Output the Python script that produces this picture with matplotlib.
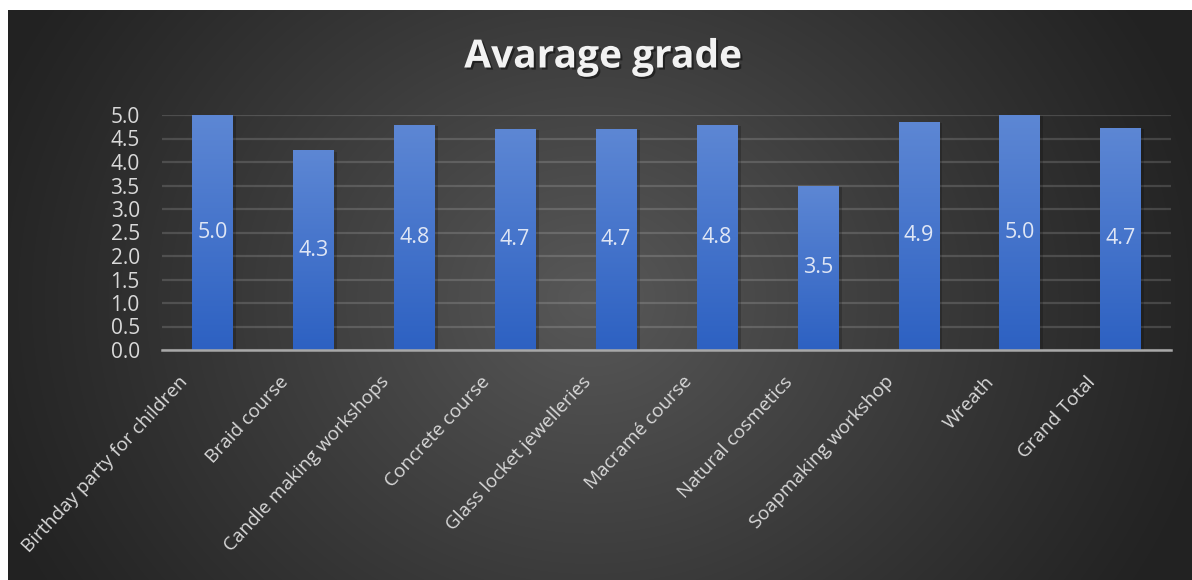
import numpy as np
import matplotlib
matplotlib.use("Agg")
import matplotlib.pyplot as plt
import matplotlib.patheffects as pe
from matplotlib.transforms import ScaledTranslation
from decimal import Decimal, ROUND_HALF_UP

categories = ["Birthday party for children", "Braid course", "Candle making workshops",
              "Concrete course", "Glass locket jewelleries", "Macramé course",
              "Natural cosmetics", "Soapmaking workshop", "Wreath", "Grand Total"]
avg_grade = [5.0, 4.25, 4.79, 4.70, 4.70, 4.79, 3.5, 4.86, 5.0, 4.73]
y_ticks = [0.0, 0.5, 1.0, 1.5, 2.0, 2.5, 3.0, 3.5, 4.0, 4.5, 5.0]
title = "Avarage grade"

plt.rcParams['font.family'] = ['Open Sans', 'DejaVu Sans']


def fmt1(v):
    return str(Decimal(str(v)).quantize(Decimal('0.1'), rounding=ROUND_HALF_UP))


W, H, DPI = 1192, 580, 100
fig = plt.figure(figsize=(W / DPI, H / DPI), dpi=DPI, facecolor='white')

# background radial gradient (chart area)
bx0, by0 = 8, 10
bgax = fig.add_axes([bx0 / W, 0, (W - bx0) / W, (H - by0) / H], zorder=0)
px = np.arange(bx0, W) + 0.5
py = np.arange(by0, H) + 0.5
xx, yy = np.meshgrid(px, py)
r = np.sqrt(((xx - 590) / 640.0) ** 2 + ((yy - 300) / 560.0) ** 2)
edge, center = 0.135, 0.345
val = edge + (center - edge) * np.clip(1 - r, 0, 1) ** 1.1
bgax.imshow(np.dstack([val, val, val]), aspect='auto', origin='upper',
            extent=[0, 1, 0, 1], interpolation='bilinear')
bgax.set_axis_off()

# main axes
left, right, y0px, y5px = 162, 1171, 350, 115
ax = fig.add_axes([left / W, (H - y0px) / H, (right - left) / W, (y0px - y5px) / H], zorder=2)
ax.set_facecolor('none')

x = np.arange(len(categories))
bar_w = 0.40
bars = ax.bar(x, avg_grade, width=bar_w, color='#3465c4', zorder=3,
              path_effects=[pe.SimplePatchShadow(offset=(2.5, -1), shadow_rgbFace='black', alpha=0.2),
                            pe.Normal()])

# vertical gradient inside each bar
grad = np.linspace(0, 1, 256).reshape(-1, 1)
top_c = np.array([0x5d, 0x87, 0xd4]) / 255
bot_c = np.array([0x2d, 0x61, 0xc2]) / 255
grad_img = (bot_c[None, None, :] * (1 - grad[..., None]) + top_c[None, None, :] * grad[..., None])
for b in bars:
    x0, w_, h_ = b.get_x(), b.get_width(), b.get_height()
    im = ax.imshow(grad_img, extent=[x0, x0 + w_, 0, h_], origin='lower',
                   aspect='auto', zorder=4, interpolation='bilinear')
    im.set_clip_path(b)

# data labels
for xi, v in zip(x, avg_grade):
    ax.text(xi, v / 2, fmt1(v), ha='center', va='center', fontsize=15.5,
            color='#dfe6f5', zorder=6)

ax.set_xlim(-0.5, len(categories) - 0.5)
ax.set_ylim(0, 5.0)
ax.set_yticks(y_ticks)
ax.set_yticklabels([f"{t:.1f}" for t in y_ticks], fontsize=15, color='#d9d9d9')
ax.yaxis.grid(True, color='white', alpha=0.15, linewidth=1.6, zorder=1)
ax.set_axisbelow(True)
for s in ['top', 'right', 'left']:
    ax.spines[s].set_visible(False)
ax.spines['bottom'].set_color('#a8a8a8')
ax.spines['bottom'].set_linewidth(1.8)
ax.spines['bottom'].set_zorder(7)
ax.tick_params(axis='both', length=0)
ax.tick_params(axis='y', pad=16)
ax.tick_params(axis='x', pad=0)

ax.set_xticks(x)
ax.set_xticklabels(categories, rotation=47, ha='right', va='center',
                   rotation_mode='anchor', fontsize=13.7, color='#d9d9d9')
off = ScaledTranslation(-28 / DPI, -29 / DPI, fig.dpi_scale_trans)
for lab in ax.get_xticklabels():
    lab.set_transform(lab.get_transform() + off)

fig.text(603 / W, 1 - 57 / H, title, ha='center', va='center', fontsize=28,
         fontweight='bold', color='#f2f2f2', zorder=5,
         path_effects=[pe.withSimplePatchShadow(offset=(1.5, -1.5), shadow_rgbFace='black', alpha=0.45)])

fig.savefig('out.png', dpi=DPI, facecolor='white')
